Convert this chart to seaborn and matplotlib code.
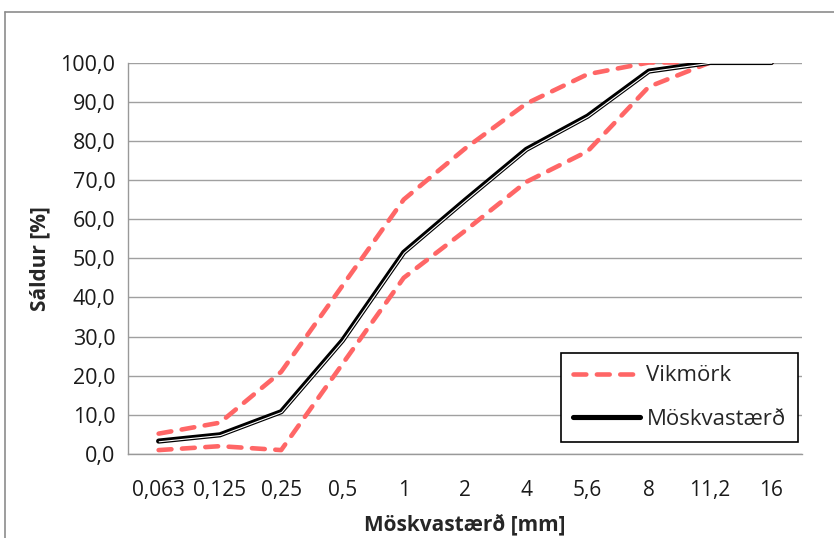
import matplotlib
matplotlib.use("Agg")
import matplotlib.pyplot as plt
import matplotlib.patheffects as pe
from matplotlib.lines import Line2D
import pandas as pd
import numpy as np
import seaborn as sns

sieves = ["0,063", "0,125", "0,25", "0,5", "1", "2", "4", "5,6", "8", "11,2", "16"]
upper_limit = [5.2, 8.0, 21.0, 43.0, 65.0, 78.0, 89.5, 97.0, 100.0, 100.0, 100.0]
lower_limit = [1.0, 2.0, 1.0, 23.0, 45.0, 57.0, 69.5, 77.3, 93.8, 100.0, 100.0]
mesh = [3.3, 4.9, 10.8, 29.0, 51.5, 64.8, 77.8, 86.3, 97.8, 100.0, 100.0]
yticks = np.arange(0, 101, 10)

sns.set_style("white")
plt.rcParams["font.family"] = ["Open Sans", "DejaVu Sans"]

red = "#ff6666"
fig = plt.figure(figsize=(8.34, 5.38), dpi=100)
ax = fig.add_axes([128 / 834, 1 - 454 / 538, 674 / 834, 391.5 / 538])

df = pd.DataFrame({"sieve": sieves, "upper": upper_limit, "lower": lower_limit, "mesh": mesh})

for col in ["upper", "lower"]:
    sns.lineplot(data=df, x="sieve", y=col, ax=ax, color=red, lw=3.3, sort=False,
                 dashes=False, zorder=3)
    line = ax.lines[-1]
    line.set_dashes((2.8, 2.3))
    line.set_dash_capstyle("round")

sns.lineplot(data=df, x="sieve", y="mesh", ax=ax, color="black", lw=3.7, sort=False, zorder=4)
ax.lines[-1].set_path_effects([pe.Normal(),
                               pe.Stroke(linewidth=0.8, foreground="white", offset=(0.4, -0.5))])

ax.set_xlim(-0.5, len(sieves) - 0.5)
ax.set_ylim(0, 100)
ax.set_yticks(yticks)
ax.set_yticklabels([f"{v:.1f}".replace(".", ",") for v in yticks], fontsize=15.5, color="#1a1a1a")
ax.set_xticks(range(len(sieves)))
ax.set_xticklabels(sieves, fontsize=15, color="#1a1a1a")
ax.set_xticks(np.arange(-0.5, len(sieves), 1), minor=True)
ax.tick_params(axis="x", which="major", length=0, pad=19)
ax.tick_params(axis="x", which="minor", length=6, color="#999999", width=1)
ax.tick_params(axis="y", length=6, color="#999999", width=1, pad=3)
ax.grid(axis="y", color="#a0a0a0", lw=1)
for s in ["top", "right"]:
    ax.spines[s].set_visible(False)
for s in ["left", "bottom"]:
    ax.spines[s].set_color("#999999")
    ax.spines[s].set_linewidth(1)

ax.set_xlabel("Möskvastærð [mm]", fontsize=15, fontweight="bold", labelpad=9)
ax.set_ylabel("Sáldur [%]", fontsize=15, fontweight="bold", labelpad=7)

handles = [Line2D([0], [0], color=red, lw=3.3, dashes=(2.8, 2.3), dash_capstyle="round"),
           Line2D([0], [0], color="black", lw=3.7, solid_capstyle="round")]
leg = ax.legend(handles, ["Vikmörk", "Möskvastærð"], loc="lower right",
                bbox_to_anchor=(0.994, 0.031), borderaxespad=0, fontsize=16,
                handlelength=3.0, handletextpad=0.3, labelspacing=1.0,
                fancybox=False, framealpha=1, edgecolor="black", borderpad=0.55)
leg.get_frame().set_linewidth(1.2)
leg.set_zorder(5)

# outer chart frame
fig.add_artist(Line2D([5 / 834, 5 / 834], [0, 1 - 12 / 538], color="#8c8c8c", lw=1.2,
                      transform=fig.transFigure))
fig.add_artist(Line2D([5 / 834, 1], [1 - 12 / 538, 1 - 12 / 538], color="#8c8c8c", lw=1.2,
                      transform=fig.transFigure))

fig.savefig("out.png", dpi=100)
